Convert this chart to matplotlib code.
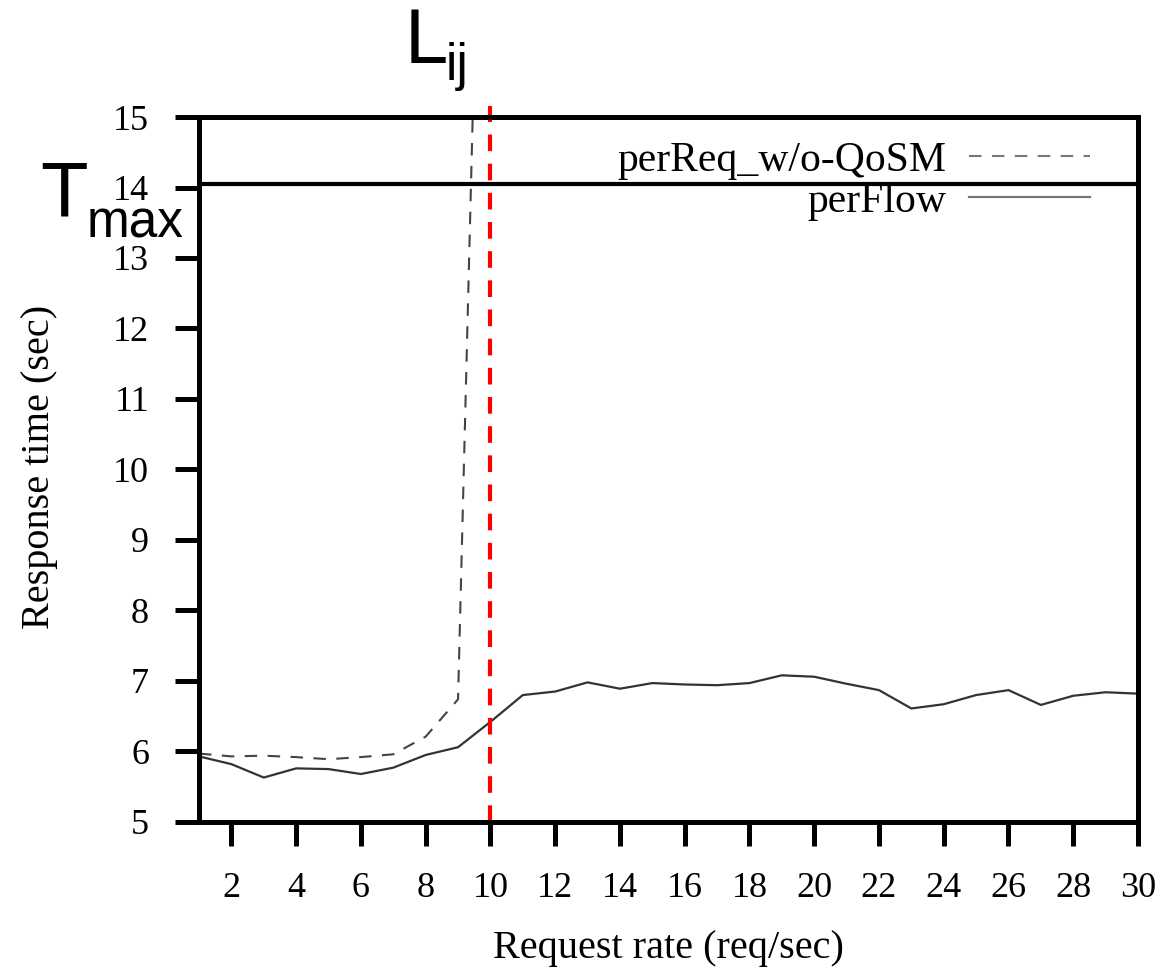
import matplotlib
matplotlib.use("Agg")
import matplotlib.pyplot as plt

rate = list(range(1, 31))
per_flow = [5.93, 5.82, 5.63, 5.76, 5.75, 5.68, 5.77, 5.95, 6.06, 6.42,
            6.80, 6.85, 6.98, 6.89, 6.97, 6.95, 6.94, 6.97, 7.08, 7.06,
            6.96, 6.87, 6.61, 6.67, 6.80, 6.87, 6.66, 6.79, 6.84, 6.82]
req_rate = list(range(1, 11))
per_req = [5.97, 5.93, 5.94, 5.92, 5.89, 5.92, 5.96, 6.21, 6.74, 25.0]
t_max = 14.05
l_ij = 10
xticks = list(range(2, 31, 2))
yticks = list(range(5, 16))

fig = plt.figure(figsize=(11.72, 9.67), dpi=100)
ax = fig.add_axes([0.1698, 0.150, 0.9710 - 0.1698, 0.879 - 0.150])

serif = "Liberation Serif"
sans = "Liberation Sans"

ax.plot(req_rate, per_req, color="#444444", lw=1.5, dashes=(6, 5),
        label="perReq_w/o-QoSM")
ax.plot(rate, per_flow, color="#333333", lw=1.6, label="perFlow")

ax.axhline(t_max, color="black", lw=3.0, xmin=0.003, xmax=1.0)
ax.axvline(l_ij, color="red", lw=3.0, linestyle=(0, (4, 3)),
           ymin=0, ymax=1.0156, clip_on=False)

ax.set_xlim(1, 30)
ax.set_ylim(5, 15)
ax.set_xticks(xticks)
ax.set_yticks(yticks)
for s in ax.spines.values():
    s.set_linewidth(3.6)
ax.tick_params(axis="both", direction="out", length=17, width=3.6,
               labelsize=26)
ax.tick_params(axis="x", pad=19)
ax.tick_params(axis="y", pad=19)
for lbl in ax.get_xticklabels() + ax.get_yticklabels():
    lbl.set_fontfamily(serif)

ax.set_xlabel("Request rate (req/sec)", fontsize=29, fontfamily=serif)
ax.xaxis.set_label_coords(0.5, (822 - 967) / 705)
ax.xaxis.label.set_va("bottom")
ax.set_ylabel("Response time (sec)", fontsize=29, fontfamily=serif)
ax.yaxis.set_label_coords((58 - 199) / 939, 0.5035)

leg = ax.legend(loc="upper right", frameon=False, markerfirst=False,
                prop={"family": serif, "size": 30}, handlelength=2.9,
                handletextpad=0.55, labelspacing=0.06, borderaxespad=0,
                borderpad=0, bbox_to_anchor=((1090 - 199) / 939,
                                             (822 - 141) / 705))
for h in leg.get_lines():
    h.set_color("#777777")

fig.text(40 / 1172, 1 - 217 / 967, "T", fontsize=56, fontfamily=sans,
         va="baseline", ha="left")
fig.text(87 / 1172, 1 - 237 / 967, "max", fontsize=37, fontfamily=sans,
         va="baseline", ha="left")
fig.text(405 / 1172, 1 - 63 / 967, "L", fontsize=56, fontfamily=sans,
         va="baseline", ha="left")
fig.text(446 / 1172, 1 - 80 / 967, "ij", fontsize=37, fontfamily=sans,
         va="baseline", ha="left")

fig.savefig("out.png", dpi=100)
